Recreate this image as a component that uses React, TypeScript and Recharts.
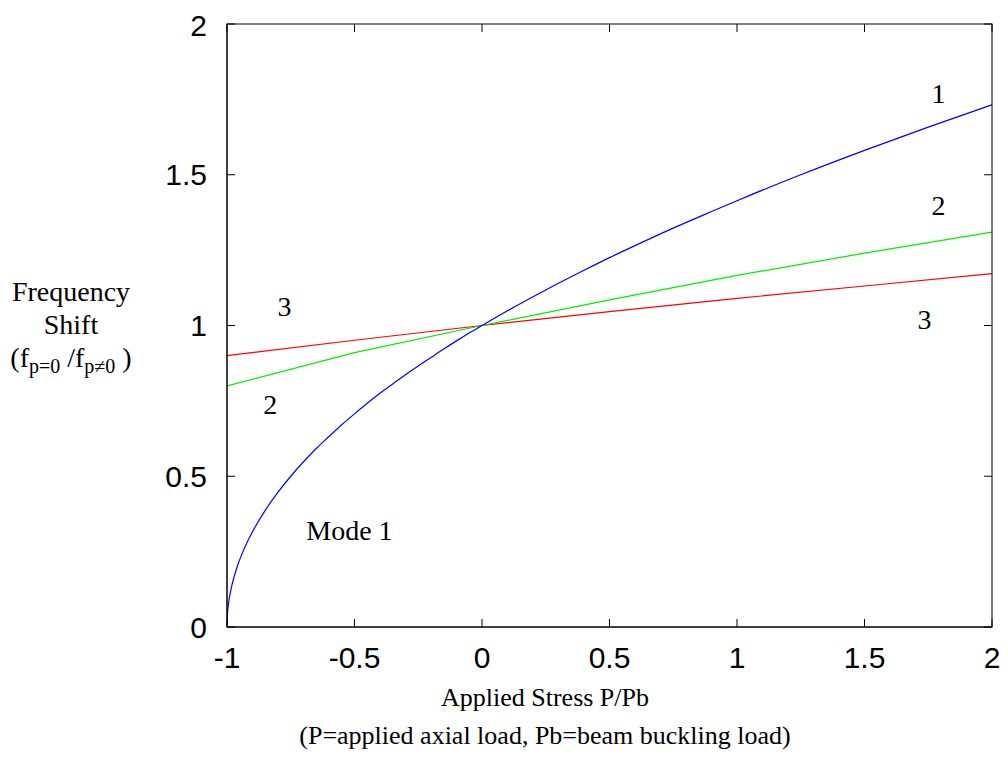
import React from 'react';
import { LineChart, Line, XAxis, YAxis, ReferenceDot } from 'recharts';

// x ticks / y ticks
const xTicks = [-1, -0.5, 0, 0.5, 1, 1.5, 2];
const yTicks = [0, 0.5, 1, 1.5, 2];

// mode 1 (blue)
const mode1X = [-1, -0.999, -0.995, -0.99, -0.98, -0.96, -0.94, -0.92, -0.9, -0.88, -0.85, -0.8, -0.75, -0.7, -0.65, -0.6, -0.55, -0.5, -0.45, -0.4, -0.35, -0.3, -0.25, -0.2, -0.15, -0.1, -0.05, 0, 0.1, 0.25, 0.4, 0.5, 0.6, 0.75, 0.9, 1, 1.25, 1.5, 1.75, 2];
const mode1Y = [0, 0.032, 0.071, 0.1, 0.141, 0.2, 0.245, 0.283, 0.316, 0.346, 0.387, 0.447, 0.5, 0.548, 0.592, 0.632, 0.671, 0.707, 0.742, 0.775, 0.806, 0.837, 0.866, 0.894, 0.922, 0.949, 0.975, 1, 1.049, 1.118, 1.183, 1.225, 1.265, 1.323, 1.378, 1.414, 1.5, 1.581, 1.658, 1.732];

// mode 2 (green)
const mode2X = [-1, -0.5, 0, 0.5, 1, 1.5, 2];
const mode2Y = [0.8, 0.91, 1, 1.085, 1.166, 1.24, 1.31];

// mode 3 (red)
const mode3X = [-1, -0.5, 0, 0.5, 1, 1.5, 2];
const mode3Y = [0.9, 0.951, 1, 1.046, 1.09, 1.131, 1.172];

// curve labels
const notes = [
  { x: 1.79, y: 1.77, text: '1' },
  { x: 1.79, y: 1.4, text: '2' },
  { x: 1.735, y: 1.02, text: '3' },
  { x: -0.775, y: 1.066, text: '3' },
  { x: -0.83, y: 0.738, text: '2' },
  { x: -0.52, y: 0.32, text: 'Mode 1' },
];

const lookup = (xs: number[], ys: number[], x: number) => {
  const i = xs.indexOf(x);
  return i < 0 ? undefined : ys[i];
};

// one table for the chart, keyed on the union of x values
const rows = mode1X.map((x, i) => ({
  x,
  m1: mode1Y[i],
  m2: lookup(mode2X, mode2Y, x),
  m3: lookup(mode3X, mode3Y, x),
}));

const serif = '"Liberation Serif", "Times New Roman", serif';
const sans = '"Liberation Sans", Arial, sans-serif';
const tickStyle = { fontSize: 30, fontFamily: sans, fill: '#000' };

// plot box, from the chart margins + axis sizes below
const W = 1000, H = 749;
const M = { top: 16, right: 16, left: 0, bottom: 0 };
const Y_W = 219, X_H = 130;
const box = { l: M.left + Y_W, r: W - M.right, t: M.top, b: H - M.bottom - X_H };
const TICK = 8;
const px = (v: number) => box.l + ((v - xTicks[0]) / (xTicks[xTicks.length - 1] - xTicks[0])) * (box.r - box.l);
const py = (v: number) => box.b - ((v - yTicks[0]) / (yTicks[yTicks.length - 1] - yTicks[0])) * (box.b - box.t);

// MATLAB-style closed frame with inward ticks
function Frame() {
  return (
    <svg width={W} height={H} style={{ position: 'absolute', left: 0, top: 0, pointerEvents: 'none' }}>
      <rect x={box.l} y={box.t} width={box.r - box.l} height={box.b - box.t} fill="none" stroke="#000" />
      {xTicks.map((t) => (
        <g key={'x' + t}>
          <line x1={px(t)} x2={px(t)} y1={box.b} y2={box.b - TICK} stroke="#000" />
          <line x1={px(t)} x2={px(t)} y1={box.t} y2={box.t + TICK} stroke="#000" />
        </g>
      ))}
      {yTicks.map((t) => (
        <g key={'y' + t}>
          <line x1={box.l} x2={box.l + TICK} y1={py(t)} y2={py(t)} stroke="#000" />
          <line x1={box.r} x2={box.r - TICK} y1={py(t)} y2={py(t)} stroke="#000" />
        </g>
      ))}
    </svg>
  );
}

export default function App() {
  return (
    <div style={{ position: 'relative', width: W, height: H }}>
      <LineChart width={W} height={H} data={rows} margin={M}>
        <XAxis
          dataKey="x"
          type="number"
          domain={[-1, 2]}
          allowDataOverflow
          ticks={xTicks}
          stroke="#000"
          tickLine={false}
          tickSize={0}
          tickMargin={20}
          height={X_H}
          tick={tickStyle}
        />
        <YAxis
          type="number"
          domain={[0, 2]}
          allowDataOverflow
          ticks={yTicks}
          stroke="#000"
          tickLine={false}
          tickSize={0}
          tickMargin={20}
          width={Y_W}
          tick={tickStyle}
        />
        <Line dataKey="m3" connectNulls stroke="#ff0000" strokeWidth={1.2} dot={false} isAnimationActive={false} />
        <Line dataKey="m2" connectNulls stroke="#00ee00" strokeWidth={1.2} dot={false} isAnimationActive={false} />
        <Line type="monotone" dataKey="m1" stroke="#0000ff" strokeWidth={1.2} dot={false} isAnimationActive={false} />
        {notes.map((n, i) => (
          <ReferenceDot
            key={i}
            x={n.x}
            y={n.y}
            r={0}
            fill="none"
            stroke="none"
            label={{ value: n.text, position: 'center', fill: '#000', fontSize: 28, fontFamily: serif }}
          />
        ))}
      </LineChart>
      <Frame />
      <div style={{ position: 'absolute', left: 0, top: 267, width: 126, textAlign: 'center', fontFamily: serif, fontSize: 28, lineHeight: '33px', color: '#000' }}>
        <div>Frequency</div>
        <div>Shift</div>
        <div>
          (f<sub style={{ fontSize: 20, verticalAlign: '-6px' }}>p=0</sub> /f<sub style={{ fontSize: 20, verticalAlign: '-6px' }}>p≠0</sub> )
        </div>
      </div>
      <div style={{ position: 'absolute', left: 137, top: 671, width: 800, textAlign: 'center', fontFamily: serif, fontSize: 26, lineHeight: '38px', color: '#000' }}>
        <div>Applied Stress P/Pb</div>
        <div>(P=applied axial load, Pb=beam buckling load)</div>
      </div>
    </div>
  );
}
